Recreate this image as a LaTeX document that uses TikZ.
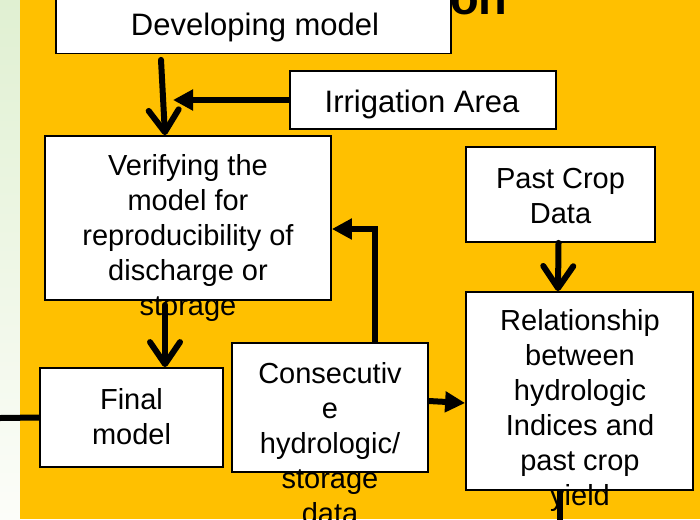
\documentclass[tikz,border=0pt]{standalone}
\usepackage{fontspec}
\setmainfont{Liberation Sans}
\usetikzlibrary{arrows.meta}
\definecolor{bgorange}{RGB}{255,192,0}
\definecolor{stripgreen}{RGB}{224,240,210}
\definecolor{stripwhite}{RGB}{252,253,249}
\newcommand\firstline{\rule{0pt}{25pt}}
\tikzset{
  boxnode/.style={draw=black, line width=1.8pt, fill=white, inner sep=0pt},
  txt/.style={anchor=north, inner sep=0pt, align=center, font=\fontsize{29}{35}\selectfont},
  bigtxt/.style={txt, font=\fontsize{31}{35}\selectfont},
  chev/.style={line width=6pt, line cap=round, -{Straight Barb[length=22pt, width=30pt, line cap=round, line join=round]}},
  tri/.style={line width=6pt, -{Triangle[length=20pt, width=20pt]}},
  plainline/.style={line width=6pt},
}
\begin{document}
\begin{tikzpicture}[x=1pt, y=-1pt]
\useasboundingbox (0,0) rectangle (700,519);
\clip (0,0) rectangle (700,519);
% background
\shade[top color=stripgreen, bottom color=stripwhite] (0,0) rectangle (20,519);
\fill[bgorange] (20,0) rectangle (700,519);
% title fragment
\node[anchor=base west, inner sep=0pt, font=\fontsize{47}{50}\selectfont\bfseries] (title) at (450,15) {on};
% boxes
\node[boxnode, minimum width=395pt, minimum height=83.5pt] (dev) at (253.5,11.75) {};
\node[boxnode, minimum width=266pt, minimum height=58pt] (irr) at (423,100) {};
\node[boxnode, minimum width=286pt, minimum height=164pt] (ver) at (188,218) {};
\node[boxnode, minimum width=189pt, minimum height=95pt] (past) at (560.5,194.5) {};
\node[boxnode, minimum width=227pt, minimum height=198pt] (rel) at (579.5,391) {};
\node[boxnode, minimum width=183pt, minimum height=99pt] (final) at (131.5,417.5) {};
\node[boxnode, minimum width=196pt, minimum height=129pt] (cons) at (330,407.5) {};
% texts
\node[bigtxt] (devt) at (255,10) {\firstline Developing model};
\node[bigtxt] (irrt) at (422,87) {\firstline Irrigation Area};
\node[txt] (vert) at (188,150) {\firstline Verifying the\\model for\\reproducibility of\\discharge or\\storage};
\node[txt] (pastt) at (560.5,163) {\firstline Past Crop\\Data};
\node[txt] (relt) at (580,305) {\firstline Relationship\\between\\hydrologic\\Indices and\\past crop\\yield};
\node[txt] (finalt) at (131.5,384) {\firstline Final\\model};
\node[txt] (const) at (330,358) {\firstline Consecutiv\\e\\hydrologic/\\storage\\data};
% connectors
\coordinate (irrend) at (173,100);
\coordinate (leftend) at (0,418);
\coordinate (bottomend) at (560,530);
\draw[chev] ([xshift=-92.5pt,yshift=-5.5pt]dev.south) -- ([xshift=-23pt]ver.north);
\draw[tri] (irr.west) -- (irrend);
\draw[chev] ([xshift=-23pt,yshift=-4pt]ver.south) -- ([xshift=33.5pt]final.north);
\draw[chev] ([xshift=-2pt]past.south) -- ([xshift=-21.5pt]rel.north);
\draw[tri] ([xshift=45pt]cons.north) |- ([yshift=-11pt]ver.east);
\draw[tri] ([yshift=6.5pt]cons.east) -- ([yshift=-12pt]rel.west);
\draw[plainline] (leftend) -- (final.west);
\draw[plainline] ([xshift=-19.5pt]rel.south) -- (bottomend);
\end{tikzpicture}
\end{document}
